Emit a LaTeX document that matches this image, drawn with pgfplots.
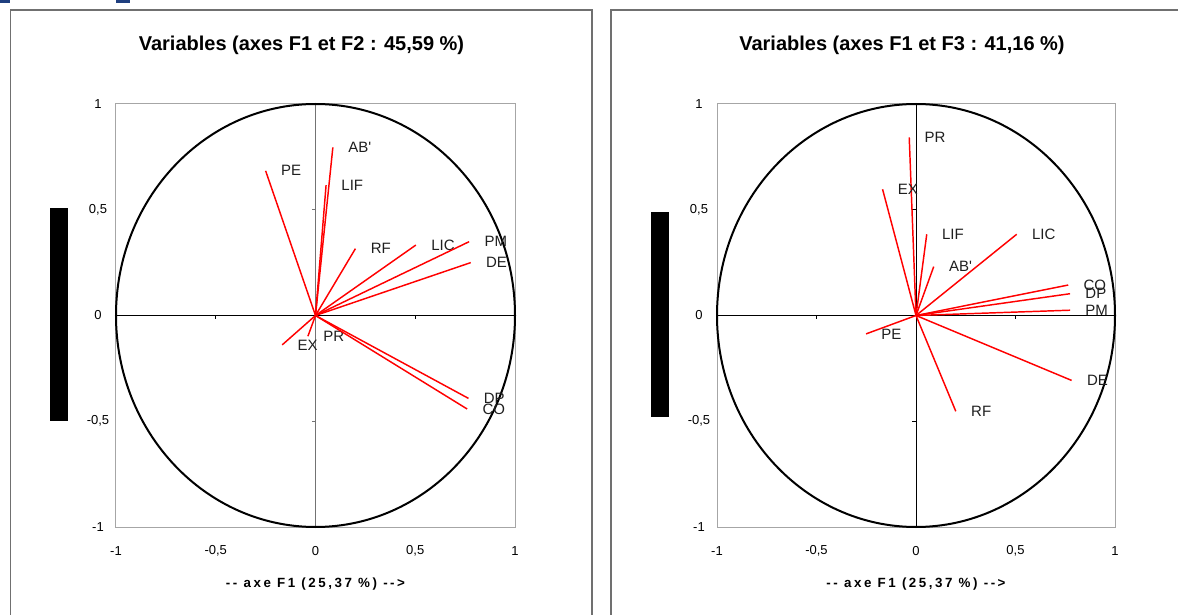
\documentclass[border=0pt]{standalone}
\usepackage{fontspec}
\setmainfont{Liberation Sans}
\newfontfamily\labfont{Liberation Sans}
\newfontfamily\axfont[LetterSpace=19]{Liberation Sans}
\usepackage{pgfplots}
\pgfplotsset{compat=1.18}

\definecolor{boxgray}{HTML}{A6A6A6}
\definecolor{panelgray}{HTML}{707070}
\definecolor{topblue}{HTML}{1F3F7F}
\newcommand{\apos}{\char39\relax}

\tikzset{
  lab/.style={pos=1, anchor=west, inner sep=0pt, xshift=11pt, font=\labfont\fontsize{11.25}{13}\selectfont, text=black!88},
}
\pgfplotsset{
  pca/.style={
    scale only axis, height=317.25pt,
    xmin=-1, xmax=1, ymin=-1, ymax=1,
    clip=false,
    axis line style={draw=boxgray, line width=0.75pt},
    xtick={-1,-0.5,0,0.5,1}, ytick={-1,-0.5,0,0.5,1},
    xticklabels={-1,{-0,5},0,{0,5},1},
    yticklabels={-1,{-0,5},0,{0,5},1},
    major tick length=0pt,
    tick label style={font=\labfont\fontsize{9.75}{11}\selectfont, inner sep=0pt},
    xticklabel style={anchor=center, yshift=-18pt},
    yticklabel style={anchor=center, xshift=-13.5pt},
    title style={font=\bfseries\fontsize{15}{18}\selectfont, at={(axis description cs:0.5,1)}, anchor=center, xshift=-10.5pt, yshift=38.25pt},
    xlabel style={font=\axfont\bfseries\fontsize{10}{12}\selectfont, at={(axis description cs:0.5,0)}, anchor=center, yshift=-42.5pt},
    xlabel={-- axe F1 (25,37 \%) -->},
  },
  vec/.style={red, line width=1.1pt, no marks},
}

\begin{document}
\begin{tikzpicture}
\useasboundingbox (0,0) rectangle (883.5pt,460.5pt);
\fill[white] (0,0) rectangle (883.5pt,460.5pt);
% cut-off heading remnants
\fill[topblue] (0,458.6pt) rectangle (7.5pt,460.5pt);
\fill[topblue] (87pt,458.6pt) rectangle (97.5pt,460.5pt);
% panel frames
\draw[panelgray, line width=1pt] (7.9pt,-5pt) -- (7.9pt,453pt) -- (444pt,453pt) -- (444pt,-5pt);
\draw[panelgray, line width=1pt] (458.25pt,-5pt) -- (458.25pt,453pt) -- (890pt,453pt);

% ---------------- Left: F1 / F2 ----------------
\begin{axis}[pca, width=299.25pt, at={(87pt,65.25pt)}, anchor=south west,
  title={Variables (axes F1 et F2 : 45,59 \%)}]
  \draw[black, line width=0.75pt] (axis cs:-1,0) -- (axis cs:1,0);
  \draw[black!55, line width=0.75pt] (axis cs:0,-1) -- (axis cs:0,1);
  \pgfplotsinvokeforeach{-0.5,0.5}{
    \draw[black, line width=0.75pt] (axis cs:#1,0) -- ([yshift=-3pt]axis cs:#1,0);
    \draw[black!55, line width=0.75pt] (axis cs:0,#1) -- ([xshift=-3pt]axis cs:0,#1);
  }
  \draw[black, line width=1.5pt] (axis cs:0,0) ellipse [x radius=1, y radius=1];
  \fill[black] ([xshift=-49.5pt,yshift=79.5pt]rel axis cs:0,0) rectangle ([xshift=-35.75pt,yshift=239.25pt]rel axis cs:0,0);
  \addplot[vec] coordinates {(0,0) (0.087,0.795)} node[lab] {AB\apos};
  \addplot[vec] coordinates {(0,0) (0.053,0.616)} node[lab] {LIF};
  \addplot[vec] coordinates {(0,0) (-0.250,0.684)} node[lab] {PE};
  \addplot[vec] coordinates {(0,0) (0.200,0.316)} node[lab] {RF};
  \addplot[vec] coordinates {(0,0) (0.503,0.333)} node[lab] {LIC};
  \addplot[vec] coordinates {(0,0) (0.770,0.349)} node[lab] {PM};
  \addplot[vec] coordinates {(0,0) (0.778,0.250)} node[lab] {DE};
  \addplot[vec] coordinates {(0,0) (-0.167,-0.139)} node[lab] {EX};
  \addplot[vec] coordinates {(0,0) (-0.038,-0.098)} node[lab] {PR};
  \addplot[vec] coordinates {(0,0) (0.767,-0.392)} node[lab] {DP};
  \addplot[vec] coordinates {(0,0) (0.760,-0.442)} node[lab] {CO};
\end{axis}

% ---------------- Right: F1 / F3 ----------------
\begin{axis}[pca, width=298.5pt, at={(537.75pt,65.25pt)}, anchor=south west,
  title={Variables (axes F1 et F3 : 41,16 \%)}]
  \draw[black, line width=0.75pt] (axis cs:-1,0) -- (axis cs:1,0);
  \draw[black, line width=0.75pt] (axis cs:0,-1) -- (axis cs:0,1);
  \pgfplotsinvokeforeach{-0.5,0.5}{
    \draw[black, line width=0.75pt] (axis cs:#1,0) -- ([yshift=-3pt]axis cs:#1,0);
    \draw[black, line width=0.75pt] (axis cs:0,#1) -- ([xshift=-3pt]axis cs:0,#1);
  }
  \draw[black, line width=1.5pt] (axis cs:0,0) ellipse [x radius=1, y radius=1];
  \fill[black] ([xshift=-49.5pt,yshift=82.5pt]rel axis cs:0,0) rectangle ([xshift=-36pt,yshift=236.25pt]rel axis cs:0,0);
  \addplot[vec] coordinates {(0,0) (-0.034,0.842)} node[lab] {PR};
  \addplot[vec] coordinates {(0,0) (-0.168,0.597)} node[lab] {EX};
  \addplot[vec] coordinates {(0,0) (0.054,0.384)} node[lab] {LIF};
  \addplot[vec] coordinates {(0,0) (0.089,0.231)} node[lab] {AB\apos};
  \addplot[vec] coordinates {(0,0) (0.506,0.384)} node[lab] {LIC};
  \addplot[vec] coordinates {(0,0) (0.765,0.144)} node[lab] {CO};
  \addplot[vec] coordinates {(0,0) (0.774,0.103)} node[lab] {DP};
  \addplot[vec] coordinates {(0,0) (0.774,0.025)} node[lab] {PM};
  \addplot[vec] coordinates {(0,0) (-0.251,-0.087)} node[lab] {PE};
  \addplot[vec] coordinates {(0,0) (0.782,-0.307)} node[lab] {DE};
  \addplot[vec] coordinates {(0,0) (0.200,-0.453)} node[lab] {RF};
\end{axis}
\end{tikzpicture}
\end{document}
